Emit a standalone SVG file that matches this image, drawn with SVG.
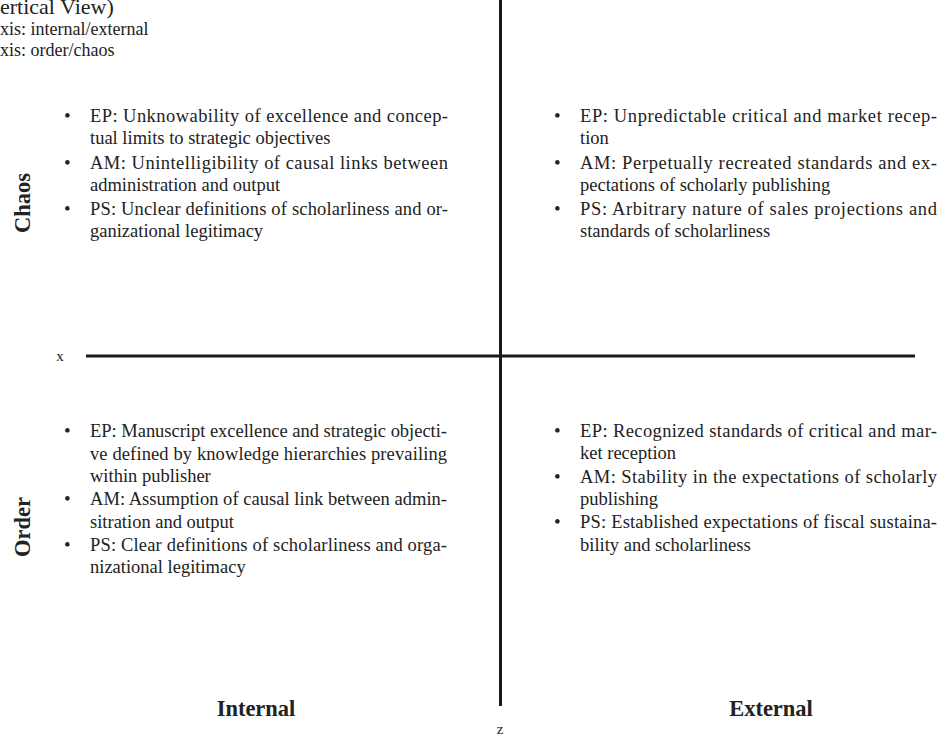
<svg xmlns="http://www.w3.org/2000/svg" width="941" height="738" viewBox="0 0 941 738">
<style>
.t{font-family:"Liberation Serif","Times New Roman",serif;font-size:18.5px;fill:#222}
.b{font-family:"Liberation Serif","Times New Roman",serif;font-size:19px;fill:#222}
.lab{font-family:"Liberation Serif","Times New Roman",serif;font-size:22.5px;font-weight:bold;fill:#222}
.small{font-family:"Liberation Serif","Times New Roman",serif;font-size:15px;fill:#222}
.head{font-family:"Liberation Serif","Times New Roman",serif;font-size:18px;fill:#222}
.axis{stroke:#1a1a1a;stroke-width:3;fill:none}
</style>
<rect width="941" height="738" fill="#fff"/>
<g id="title">
<text x="0" y="14" style="font-family:'Liberation Serif',serif;font-size:22px;fill:#222">ertical View)</text>
<text class="head" x="0" y="35">xis: internal/external</text>
<text class="head" x="0" y="56">xis: order/chaos</text>
</g>
<g id="connectors">
<line class="axis" x1="500.5" y1="0" x2="500.5" y2="706"/>
<line class="axis" x1="86" y1="356" x2="915" y2="356"/>
</g>
<g id="axis-labels">
<text class="small" x="60" y="361" text-anchor="middle">x</text>
<text class="small" x="500" y="734" text-anchor="middle">z</text>
<text class="lab" transform="translate(30,203) rotate(-90)" text-anchor="middle">Chaos</text>
<text class="lab" transform="translate(30,527) rotate(-90)" text-anchor="middle">Order</text>
<text class="lab" x="256" y="716" text-anchor="middle">Internal</text>
<text class="lab" x="771" y="716" text-anchor="middle">External</text>
</g>
<g id="quadrant-chaos-internal">
<text class="b" x="64" y="122">•</text>
<text class="b" x="64" y="169">•</text>
<text class="b" x="64" y="215">•</text>
<text class="t" x="90" y="122" textLength="358" lengthAdjust="spacing">EP: Unknowability of excellence and concep-</text>
<text class="t" x="90" y="144">tual limits to strategic objectives</text>
<text class="t" x="90" y="169" textLength="358" lengthAdjust="spacing">AM: Unintelligibility of causal links between</text>
<text class="t" x="90" y="191">administration and output</text>
<text class="t" x="90" y="215" textLength="358" lengthAdjust="spacing">PS: Unclear definitions of scholarliness and or-</text>
<text class="t" x="90" y="237">ganizational legitimacy</text>
</g>
<g id="quadrant-chaos-external">
<text class="b" x="554" y="122">•</text>
<text class="b" x="554" y="169">•</text>
<text class="b" x="554" y="215">•</text>
<text class="t" x="580" y="122" textLength="357" lengthAdjust="spacing">EP: Unpredictable critical and market recep-</text>
<text class="t" x="580" y="144">tion</text>
<text class="t" x="580" y="169" textLength="357" lengthAdjust="spacing">AM: Perpetually recreated standards and ex-</text>
<text class="t" x="580" y="191">pectations of scholarly publishing</text>
<text class="t" x="580" y="215" textLength="357" lengthAdjust="spacing">PS: Arbitrary nature of sales projections and</text>
<text class="t" x="580" y="237">standards of scholarliness</text>
</g>
<g id="quadrant-order-internal">
<text class="b" x="64" y="437">•</text>
<text class="b" x="64" y="505">•</text>
<text class="b" x="64" y="551">•</text>
<text class="t" x="90" y="437" textLength="357" lengthAdjust="spacing">EP: Manuscript excellence and strategic objecti-</text>
<text class="t" x="90" y="460" textLength="357" lengthAdjust="spacing">ve defined by knowledge hierarchies prevailing</text>
<text class="t" x="90" y="482">within publisher</text>
<text class="t" x="90" y="505" textLength="357" lengthAdjust="spacing">AM: Assumption of causal link between admin-</text>
<text class="t" x="90" y="528">sitration and output</text>
<text class="t" x="90" y="551" textLength="357" lengthAdjust="spacing">PS: Clear definitions of scholarliness and orga-</text>
<text class="t" x="90" y="573">nizational legitimacy</text>
</g>
<g id="quadrant-order-external">
<text class="b" x="554" y="437">•</text>
<text class="b" x="554" y="483">•</text>
<text class="b" x="554" y="528">•</text>
<text class="t" x="580" y="437" textLength="357" lengthAdjust="spacing">EP: Recognized standards of critical and mar-</text>
<text class="t" x="580" y="459">ket reception</text>
<text class="t" x="580" y="483" textLength="357" lengthAdjust="spacing">AM: Stability in the expectations of scholarly</text>
<text class="t" x="580" y="505">publishing</text>
<text class="t" x="580" y="528" textLength="357" lengthAdjust="spacing">PS: Established expectations of fiscal sustaina-</text>
<text class="t" x="580" y="551">bility and scholarliness</text>
</g>
</svg>
